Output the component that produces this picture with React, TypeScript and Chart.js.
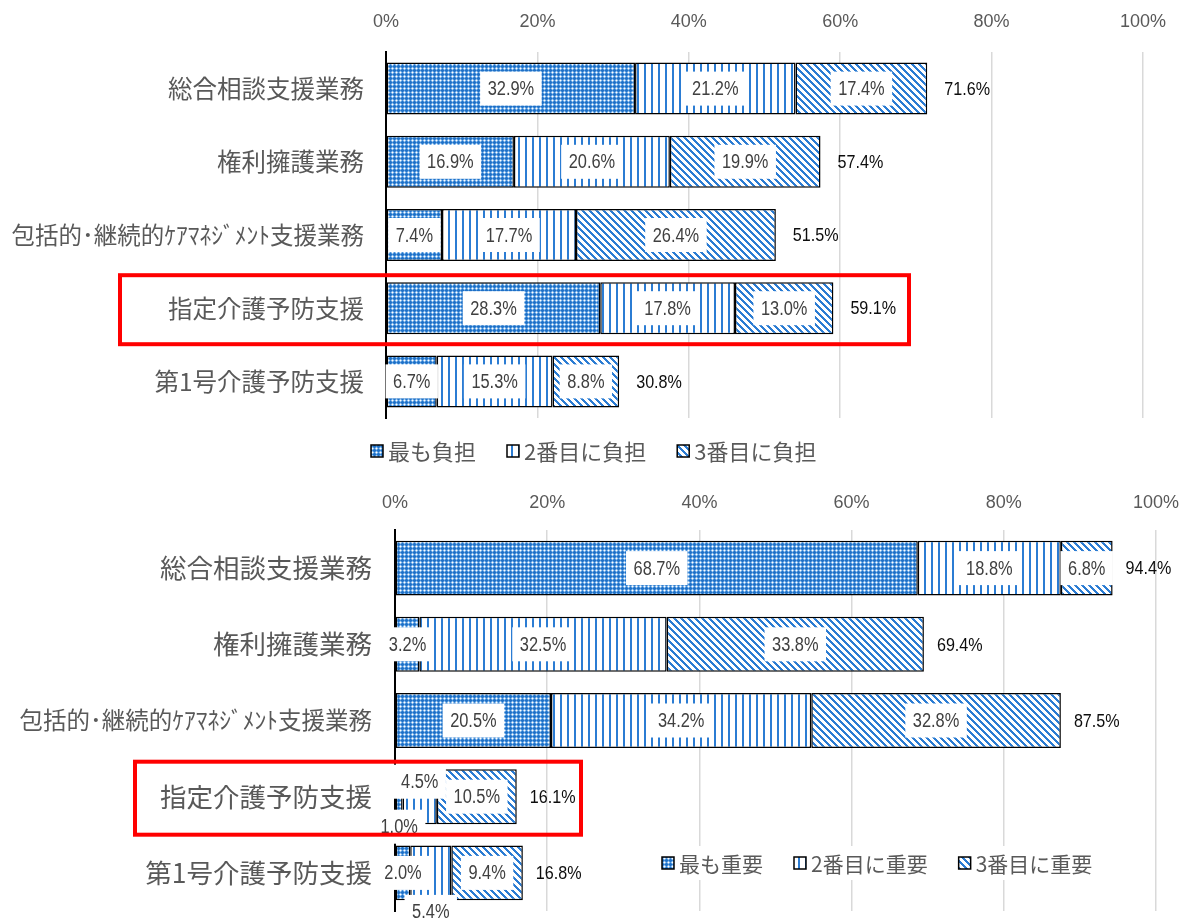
import React, { useEffect, useRef } from 'react';
import { Chart, registerables } from 'chart.js';

Chart.register(...registerables);

// ---------- data ----------
const categories = [
  '総合相談支援業務',
  '権利擁護業務',
  '包括的･継続的ｹｱﾏﾈｼﾞﾒﾝﾄ支援業務',
  '指定介護予防支援',
  '第1号介護予防支援',
];
const xTickValues = [0, 20, 40, 60, 80, 100];

const burdenLabels = ['最も負担', '2番目に負担', '3番目に負担'];
const burdenFirst = [32.9, 16.9, 7.4, 28.3, 6.7];
const burdenSecond = [21.2, 20.6, 17.7, 17.8, 15.3];
const burdenThird = [17.4, 19.9, 26.4, 13.0, 8.8];
const burdenTotal = [71.6, 57.4, 51.5, 59.1, 30.8];

const importanceLabels = ['最も重要', '2番目に重要', '3番目に重要'];
const importanceFirst = [68.7, 3.2, 20.5, 1.0, 2.0];
const importanceSecond = [18.8, 32.5, 34.2, 4.5, 5.4];
const importanceThird = [6.8, 33.8, 32.8, 10.5, 9.4];
const importanceTotal = [94.4, 69.4, 87.5, 16.1, 16.8];

// label nudges (pixels) for crowded small segments in the lower chart
const importanceLabelDy = [
  [0, 0, 0, 30, 0],
  [0, 0, 0, -15, 39],
  [0, 0, 0, 0, 0],
];

// ---------- styles ----------
const BLUE = '#2b7cd3';
const GRAY = '#595959';
const JP = "'Noto Sans CJK JP', sans-serif";
const NUM = "'Liberation Sans', Arial, sans-serif";

function tile(w: number, h: number, fn: (x: number, y: number) => string) {
  const c = document.createElement('canvas');
  c.width = w;
  c.height = h;
  const g = c.getContext('2d')!;
  for (let y = 0; y < h; y++) {
    for (let x = 0; x < w; x++) {
      g.fillStyle = fn(x, y);
      g.fillRect(x, y, 1, 1);
    }
  }
  return g.createPattern(c, 'repeat')!;
}

function makePatterns() {
  const map = ['WLML', 'LMDM', 'MDDD', 'LMDM'];
  const col: Record<string, string> = { D: '#1f70c6', M: '#4a93dc', W: '#ffffff', L: '#a6cbef' };
  const p1 = tile(4, 4, (x, y) => col[map[y][x]]);
  const p2 = tile(7, 1, (x) => (x < 2 ? BLUE : '#ffffff'));
  const p3 = tile(7, 7, (x, y) => ((((x - y) % 7) + 7) % 7 < 3 ? BLUE : '#ffffff'));
  return [p1, p2, p3];
}

function narrowText(ctx: CanvasRenderingContext2D, txt: string, x: number, y: number, sx: number, align: 'center' | 'left') {
  ctx.save();
  ctx.translate(x, y);
  ctx.scale(sx, 1);
  ctx.textAlign = align;
  ctx.fillText(txt, 0, 0);
  ctx.restore();
}

const segmentLabelPlugin = {
  id: 'segmentLabels',
  afterDatasetsDraw(chart: any, _a: any, opts: any) {
    const ctx = chart.ctx as CanvasRenderingContext2D;
    const sx = 0.82;
    ctx.save();
    ctx.textBaseline = 'middle';
    ctx.font = `20px ${NUM}`;
    chart.data.datasets.forEach((ds: any, di: number) => {
      const meta = chart.getDatasetMeta(di);
      meta.data.forEach((el: any, i: number) => {
        const v = ds.data[i] as number;
        const p = el.getProps(['x', 'y', 'base'], true);
        const cx = (p.x + p.base) / 2;
        const cy = p.y + ((opts.dy && opts.dy[di] && opts.dy[di][i]) || 0);
        const txt = v.toFixed(1) + '%';
        const w = ctx.measureText(txt).width * sx + 15;
        const h = 34;
        ctx.fillStyle = '#ffffff';
        ctx.fillRect(cx - w / 2, cy - h / 2, w, h);
        ctx.fillStyle = '#404040';
        narrowText(ctx, txt, cx, cy + 1, sx, 'center');
      });
    });
    const last = chart.getDatasetMeta(chart.data.datasets.length - 1);
    ctx.fillStyle = '#0d0d0d';
    ctx.font = `19px ${NUM}`;
    (opts.totals as number[]).forEach((t, i) => {
      const el = last.data[i];
      narrowText(ctx, t.toFixed(1) + '%', el.x + opts.gap, el.y + 1, 0.85, 'left');
    });
    ctx.restore();
  },
};

const overlayPlugin = {
  id: 'overlay',
  afterDraw(chart: any, _a: any, opts: any) {
    const ctx = chart.ctx as CanvasRenderingContext2D;
    ctx.save();
    // legend
    const lg = opts.legend;
    ctx.font = `${lg.size}px ${JP}`;
    ctx.textBaseline = 'middle';
    ctx.textAlign = 'left';
    const sq = 12;
    const items = chart.data.datasets.map((ds: any) => ({
      label: ds.label as string,
      fill: ds.backgroundColor,
      w: sq + 5 + ctx.measureText(ds.label).width,
    }));
    const gap = 31;
    const total = items.reduce((s: number, it: any) => s + it.w, 0) + gap * (items.length - 1);
    let x = lg.x;
    if (lg.background) {
      ctx.fillStyle = '#ffffff';
      ctx.fillRect(x - 8, lg.cy - 17, total + 16, 34);
    }
    items.forEach((it: any) => {
      ctx.fillStyle = it.fill;
      ctx.fillRect(x, lg.cy - sq / 2, sq, sq);
      ctx.strokeStyle = '#000';
      ctx.lineWidth = 1.5;
      ctx.strokeRect(x, lg.cy - sq / 2, sq, sq);
      ctx.fillStyle = GRAY;
      ctx.fillText(it.label, x + sq + 5, lg.cy + 1);
      x += it.w + gap;
    });
    // highlight frame
    const r = opts.frame;
    const yc = chart.scales.y.getPixelForValue(r.index);
    ctx.strokeStyle = '#ff0000';
    ctx.lineWidth = 4;
    ctx.strokeRect(r.x1 + 2, yc - r.above + 2, r.x2 - r.x1 - 4, r.above + r.below - 4);
    ctx.restore();
  },
};

function buildConfig(p: {
  legendLabels: string[];
  first: number[];
  second: number[];
  third: number[];
  totals: number[];
  patterns: CanvasPattern[];
  axisWidth: number;
  axisHeight: number;
  padRight: number;
  padBottom: number;
  barPct: number;
  catSize: number;
  longSize: number;
  tickPad: number;
  catPad: number;
  dy?: number[][];
  gap: number;
  legend: any;
  frame: any;
}) {
  const series = [p.first, p.second, p.third];
  return {
    type: 'bar' as const,
    data: {
      labels: categories,
      datasets: series.map((d, i) => ({
        label: p.legendLabels[i],
        data: d,
        backgroundColor: p.patterns[i],
        borderColor: '#000000',
        borderWidth: 1.5,
        borderSkipped: false,
        categoryPercentage: 1,
        barPercentage: p.barPct,
      })),
    },
    options: {
      indexAxis: 'y' as const,
      animation: false as const,
      responsive: false,
      devicePixelRatio: 1,
      layout: { padding: { left: 0, top: 0, right: p.padRight, bottom: p.padBottom } },
      scales: {
        x: {
          position: 'top' as const,
          stacked: true,
          min: 0,
          max: 100,
          afterBuildTicks: (s: any) => {
            s.ticks = xTickValues.map((v) => ({ value: v }));
          },
          afterFit: (s: any) => {
            s.height = p.axisHeight;
            s.paddingLeft = 0;
            s.paddingRight = 0;
          },
          ticks: {
            callback: (v: any) => v + '%',
            color: GRAY,
            font: { family: NUM, size: 18 },
            padding: p.tickPad,
            maxRotation: 0,
          },
          grid: { color: '#d9d9d9', lineWidth: 1.5, drawTicks: false },
          border: { display: false },
        },
        y: {
          stacked: true,
          afterFit: (s: any) => {
            s.width = p.axisWidth;
            s.paddingTop = 0;
            s.paddingBottom = 0;
          },
          ticks: {
            color: GRAY,
            font: (c: any) => ({ family: JP, size: c.index === 2 ? p.longSize : p.catSize }),
            padding: p.catPad,
          },
          grid: { display: false, drawTicks: false },
          border: { display: true, color: '#000000', width: 2 },
        },
      },
      plugins: {
        legend: { display: false },
        tooltip: { enabled: false },
        segmentLabels: { totals: p.totals, dy: p.dy, gap: p.gap },
        overlay: { legend: p.legend, frame: p.frame },
      },
    },
    plugins: [segmentLabelPlugin, overlayPlugin],
  };
}

export default function App() {
  const topRef = useRef<HTMLCanvasElement>(null);
  const bottomRef = useRef<HTMLCanvasElement>(null);

  useEffect(() => {
    const pats = makePatterns();
    const c1 = new Chart(
      topRef.current!,
      buildConfig({
        legendLabels: burdenLabels,
        first: burdenFirst,
        second: burdenSecond,
        third: burdenThird,
        totals: burdenTotal,
        patterns: pats,
        axisWidth: 386,
        axisHeight: 52,
        padRight: 39,
        padBottom: 52,
        barPct: 0.71,
        catSize: 24.5,
        longSize: 23.5,
        tickPad: 19,
        catPad: 22,
        gap: 17,
        legend: { x: 371, cy: 451, size: 22, background: false },
        frame: { index: 3, x1: 118, x2: 911, above: 35, below: 38 },
      }) as any
    );
    const c2 = new Chart(
      bottomRef.current!,
      buildConfig({
        legendLabels: importanceLabels,
        first: importanceFirst,
        second: importanceSecond,
        third: importanceThird,
        totals: importanceTotal,
        patterns: pats,
        axisWidth: 395,
        axisHeight: 60,
        padRight: 26,
        padBottom: 8,
        barPct: 0.72,
        catSize: 26.5,
        longSize: 23.5,
        tickPad: 16,
        catPad: 23,
        dy: importanceLabelDy,
        gap: 13,
        legend: { x: 662, cy: 393, size: 21, background: true },
        frame: { index: 3, x1: 133, x2: 583, above: 37, below: 40 },
      }) as any
    );
    return () => {
      c1.destroy();
      c2.destroy();
    };
  }, []);

  return (
    <div style={{ position: 'absolute', left: 0, top: 0, width: 1182, height: 919, background: '#fff' }}>
      <canvas ref={topRef} width={1182} height={470} style={{ position: 'absolute', left: 0, top: 0 }} />
      <canvas ref={bottomRef} width={1182} height={449} style={{ position: 'absolute', left: 0, top: 470 }} />
    </div>
  );
}
